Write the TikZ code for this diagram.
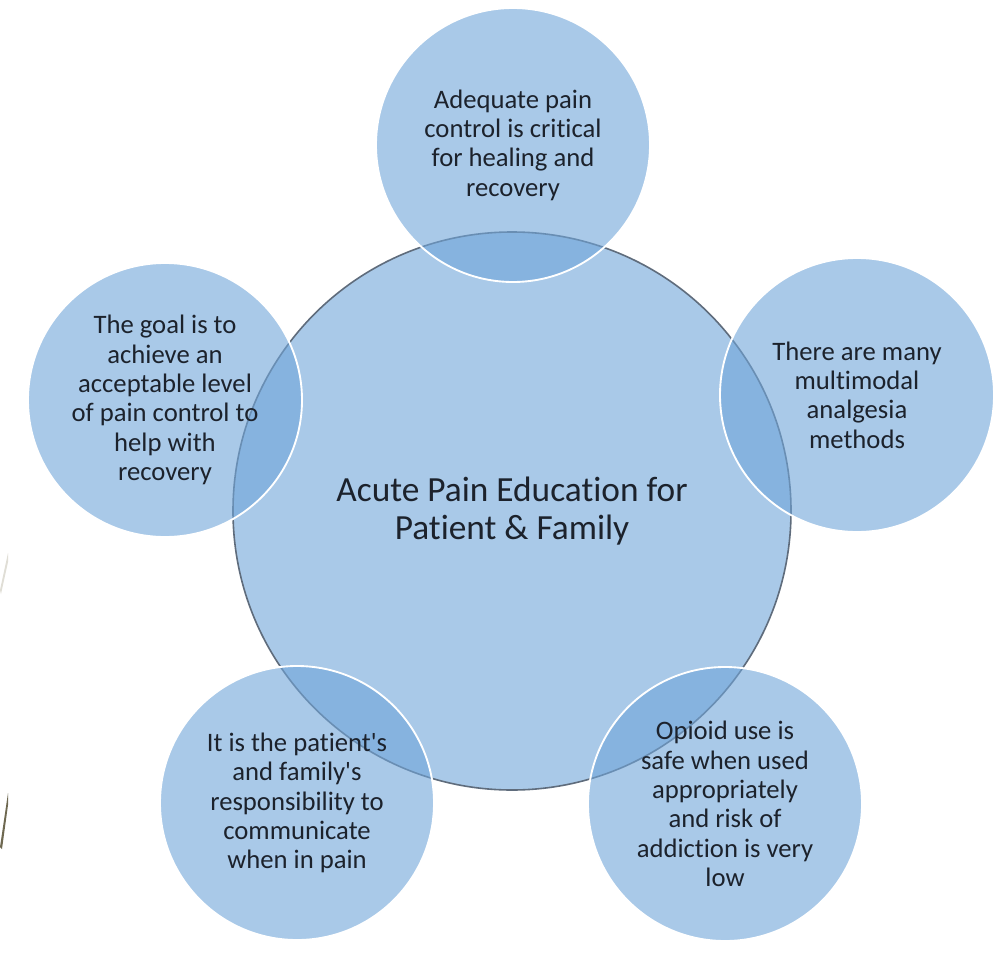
\documentclass[tikz,border=0pt]{standalone}
\usepackage{fontspec}
\setmainfont{Carlito}[Ligatures={TeX,NoCommon}]
\usepackage{tikz}
\usetikzlibrary{positioning}

\definecolor{bubble}{RGB}{112,165,217}
\definecolor{rim}{RGB}{95,108,124}
\definecolor{ink}{RGB}{28,34,44}
\definecolor{streak}{RGB}{110,104,80}
\definecolor{streaklight}{RGB}{224,222,214}

\begin{document}
\begin{tikzpicture}[x=0.75pt,y=-0.75pt,
hub/.style={circle,minimum size=418.5pt,inner sep=0pt,fill=bubble,fill opacity=0.6,text opacity=1,draw=rim,line width=1.2pt,align=center,text=ink,font=\fontsize{26.5}{29}\selectfont},
point/.style={circle,minimum size=205.5pt,inner sep=0pt,fill=bubble,fill opacity=0.6,text opacity=1,draw=white,line width=1.4pt,align=center,text=ink,font=\fontsize{20}{22}\selectfont}]
\useasboundingbox (0,0) rectangle (994,970);
\fill[white] (0,0) rectangle (994,970);
\fill[streaklight] (0,590) -- (8,553) -- (8,562) -- (1,594) -- cycle;
\fill[streak] (0,847) -- (8,793) -- (8,805) -- (2,849) -- cycle;
\node[hub] (hub) at (512,511) {Acute Pain Education for\\Patient \& Family};
\node[point] (p1) at (513,145) {Adequate pain\\control is critical\\for healing and\\recovery};
\node[point] (p2) at (857,395) {There are many\\multimodal\\analgesia\\methods};
\node[point] (p3) at (725,804) {Opioid use is\\safe when used\\appropriately\\and risk of\\addiction is very\\low};
\node[point] (p4) at (297,803) {It is the patient\textquotesingle s\\and family\textquotesingle s\\responsibility to\\communicate\\when in pain};
\node[point] (p5) at (165,400) {The goal is to\\achieve an\\acceptable level\\of pain control to\\help with\\recovery};
\end{tikzpicture}
\end{document}
